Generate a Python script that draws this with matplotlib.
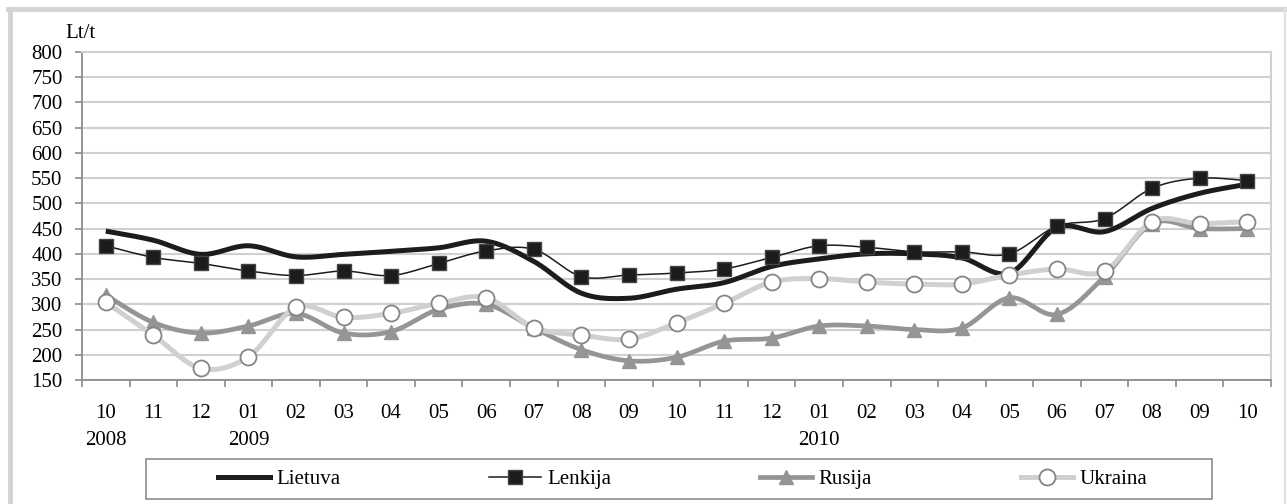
import numpy as np
import matplotlib
matplotlib.use('Agg')
import matplotlib.pyplot as plt
from matplotlib.lines import Line2D
from matplotlib.patches import Rectangle

# ---- duomenys ----
menesiai = ['10', '11', '12', '01', '02', '03', '04', '05', '06', '07', '08', '09',
            '10', '11', '12', '01', '02', '03', '04', '05', '06', '07', '08', '09', '10']
metai = {0: '2008', 3: '2009', 15: '2010'}

lietuva = [445, 427, 399, 416, 394, 399, 405, 412, 425, 385, 322, 312, 330,
           343, 375, 390, 400, 400, 392, 362, 452, 444, 490, 520, 538]
lenkija = [416, 393, 381, 366, 357, 366, 357, 381, 406, 409, 355, 358, 362,
           370, 393, 416, 413, 404, 404, 400, 455, 470, 530, 550, 545]
rusija = [318, 264, 243, 257, 282, 243, 246, 290, 300, 253, 210, 188, 195,
          227, 233, 257, 257, 250, 253, 313, 280, 355, 460, 450, 450]
ukraina = [304, 239, 173, 196, 294, 274, 282, 302, 313, 254, 239, 231, 263,
           302, 344, 351, 344, 340, 340, 358, 370, 366, 464, 460, 464]


def glodinti(x, y, n=20):
    # Catmull-Rom kreive kaip Excel "smoothed line"
    x = np.asarray(x, float)
    y = np.asarray(y, float)
    px = np.concatenate([[x[0]], x, [x[-1]]])
    py = np.concatenate([[y[0]], y, [y[-1]]])
    xs, ys = [], []
    t = np.linspace(0, 1, n, endpoint=False)
    for i in range(1, len(px) - 2):
        p0, p1, p2, p3 = px[i - 1], px[i], px[i + 1], px[i + 2]
        q0, q1, q2, q3 = py[i - 1], py[i], py[i + 1], py[i + 2]
        c1x, c1y = p1 + (p2 - p0) / 6, q1 + (q2 - q0) / 6
        c2x, c2y = p2 - (p3 - p1) / 6, q2 - (q3 - q1) / 6
        b0 = (1 - t) ** 3
        b1 = 3 * (1 - t) ** 2 * t
        b2 = 3 * (1 - t) * t ** 2
        b3 = t ** 3
        xs.extend(b0 * p1 + b1 * c1x + b2 * c2x + b3 * p2)
        ys.extend(b0 * q1 + b1 * c1y + b2 * c2y + b3 * q2)
    xs.append(x[-1])
    ys.append(y[-1])
    return np.array(xs), np.array(ys)


plt.rcParams['font.family'] = ['Liberation Serif', 'DejaVu Serif']
fs = 15

fig = plt.figure(figsize=(12.87, 5.04), dpi=100)
W, H = 1287, 504
ax = fig.add_axes([82 / W, 1 - 380 / H, (1271 - 82) / W, (380 - 52) / H])

x = np.arange(len(menesiai))

xs, ys = glodinti(x, lietuva)
ax.plot(xs, ys, color='#1c1c1c', lw=3.6, solid_capstyle='butt', zorder=3)

xs, ys = glodinti(x, lenkija)
ax.plot(xs, ys, color='#1c1c1c', lw=1.1, zorder=4)
ax.plot(x, lenkija, ls='none', marker='s', ms=9.5, mfc='#1c1c1c', mec='#444444', mew=1.0, zorder=4)

xs, ys = glodinti(x, rusija)
ax.plot(xs, ys, color='#959595', lw=3.4, zorder=5)
ax.plot(x, rusija, ls='none', marker='^', ms=10, mfc='#959595', mec='#959595', zorder=5)

xs, ys = glodinti(x, ukraina)
ax.plot(xs, ys, color='#d0d0d0', lw=3.6, zorder=6)
ax.plot(x, ukraina, ls='none', marker='o', ms=11.5, mfc='white', mec='#858585', mew=1.3, zorder=6)

ax.set_xlim(-0.5, len(menesiai) - 0.5)
ax.set_ylim(150, 800)
ax.set_yticks(np.arange(150, 801, 50))
ax.yaxis.grid(True, color='#d0d0d0', lw=1.5)
ax.set_axisbelow(True)

ax.set_xticks(np.arange(-0.5, len(menesiai)), labels=[])
ax.set_xticks(x, labels=menesiai, minor=True)
ax.tick_params(axis='x', which='major', length=5, width=1.2, color='#8c8c8c', direction='out')
ax.tick_params(axis='x', which='minor', length=0, pad=17, labelsize=fs)
ax.tick_params(axis='y', length=5, width=1.2, color='#8c8c8c', pad=9, labelsize=fs)

for k in ['left', 'bottom']:
    ax.spines[k].set_color('#8c8c8c')
    ax.spines[k].set_linewidth(1.3)
for k in ['top', 'right']:
    ax.spines[k].set_color('#d0d0d0')
    ax.spines[k].set_linewidth(1.5)

for i, m in metai.items():
    ax.text(i, -0.185, m, transform=ax.get_xaxis_transform(), ha='center', va='center', fontsize=fs)

fig.text(65 / W, 1 - 33 / H, 'Lt/t', ha='left', va='center', fontsize=fs)

# legenda
fig.add_artist(Rectangle((146 / W, 1 - 499 / H), (1212 - 146) / W, 40 / H,
                         transform=fig.transFigure, fill=False, ec='#8c8c8c', lw=1.2))
rankenos = [
    Line2D([], [], color='#1c1c1c', lw=3.6),
    Line2D([], [], color='#1c1c1c', lw=1.1, marker='s', ms=9.5, mfc='#1c1c1c', mec='#444444'),
    Line2D([], [], color='#959595', lw=3.4, marker='^', ms=10, mfc='#959595', mec='#959595'),
    Line2D([], [], color='#d0d0d0', lw=3.6, marker='o', ms=11.5, mfc='white', mec='#858585', mew=1.3),
]
fig.legend(rankenos, ['Lietuva', 'Lenkija', 'Rusija', 'Ukraina'], ncol=4, mode='expand',
           loc='center', bbox_to_anchor=(218 / W, 1 - 499 / H, (1147 - 218) / W, 40 / H),
           bbox_transform=fig.transFigure, frameon=False, fontsize=fs,
           handlelength=2.5, handletextpad=0.3, borderpad=0, borderaxespad=0)

# isorinis remelis
fig.add_artist(Line2D([10 / W, 10 / W], [0, 1 - 9 / H], color='#d4d4d4', lw=3.5, transform=fig.transFigure))
fig.add_artist(Line2D([8 / W, 1285 / W], [1 - 9 / H, 1 - 9 / H], color='#d4d4d4', lw=3.5, transform=fig.transFigure))
fig.add_artist(Line2D([1285 / W, 1285 / W], [0, 1 - 9 / H], color='#e0e0e0', lw=1.5, transform=fig.transFigure))

plt.savefig('out.png', dpi=100)
